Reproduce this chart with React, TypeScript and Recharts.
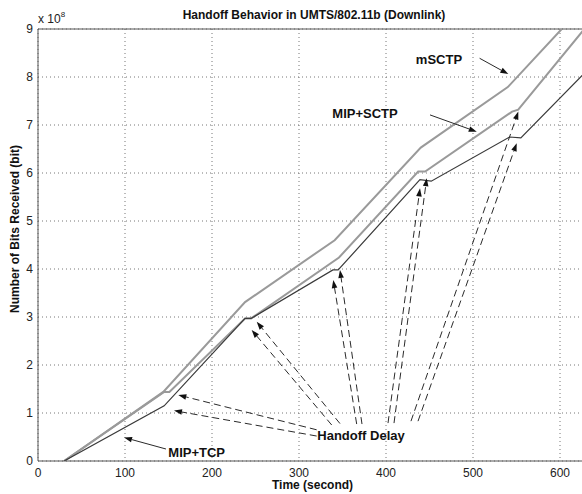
import React from 'react';
import { LineChart, Line, XAxis, YAxis, CartesianGrid, ReferenceLine, ReferenceDot } from 'recharts';

// Time (s) and bits received (units of 1e8)
const MSCTP_T = [30, 144, 238, 341, 440, 540, 602];
const MSCTP_V = [0, 1.44, 3.31, 4.6, 6.53, 7.79, 9.0];
const MIPSCTP_T = [30, 145, 151, 238, 245, 346, 437, 445, 545, 552, 628];
const MIPSCTP_V = [0, 1.44, 1.44, 2.97, 2.97, 4.24, 6.03, 6.03, 7.28, 7.32, 9.0];
const MIPTCP_T = [30, 145, 238, 245, 339, 345, 439, 452, 542, 555, 640];
const MIPTCP_V = [0, 1.15, 2.97, 2.97, 3.98, 3.98, 5.86, 5.83, 6.75, 6.73, 8.3];

const X_TICKS = [0, 100, 200, 300, 400, 500, 600];
const Y_TICKS = [0, 1, 2, 3, 4, 5, 6, 7, 8, 9];

// Dashed "Handoff Delay" arrows: [startT, startV, tipT, tipV]
const HANDOFF_ARROWS = [
  [320.3, 0.65, 161.3, 1.375],
  [320.3, 0.52, 156.3, 1.05],
  [337.6, 0.75, 245.6, 2.73],
  [347.1, 0.78, 251.4, 2.9],
  [366.3, 0.77, 339.4, 3.77],
  [372.4, 0.77, 347.1, 3.98],
  [402.3, 0.79, 439.1, 5.68],
  [409.2, 0.79, 446.8, 5.89],
  [428.7, 0.83, 552.1, 7.28],
  [436.8, 0.83, 550.2, 6.62],
];

// Solid label arrows
const LABEL_ARROWS = [
  [507.6, 8.39, 540.6, 8.06],
  [450.6, 7.21, 504.3, 6.86],
  [147.1, 0.25, 98.9, 0.49],
];

const LABEL_TEXT = ['mSCTP', 'MIP+SCTP', 'MIP+TCP', 'Handoff Delay'];
const LABEL_T = [460.9, 375.9, 182.4, 371.3];
const LABEL_V = [8.375, 7.25, 0.18, 0.53];

const toData = (ts: number[], vs: number[]) => ts.map((t, i) => ({ t, v: vs[i] }));
const mSCTP = toData(MSCTP_T, MSCTP_V);
const mipSCTP = toData(MIPSCTP_T, MIPSCTP_V);
const mipTCP = toData(MIPTCP_T, MIPTCP_V);

const arrowShape = (dash?: string) => (props: any) => {
  const { x1, y1, x2, y2 } = props;
  const dx = x2 - x1;
  const dy = y2 - y1;
  const len = Math.hypot(dx, dy) || 1;
  const ux = dx / len;
  const uy = dy / len;
  const L = 8;
  const W = 2.8;
  const bx = x2 - ux * L;
  const by = y2 - uy * L;
  const pts = `${x2},${y2} ${bx - uy * W},${by + ux * W} ${bx + uy * W},${by - ux * W}`;
  return (
    <g>
      <line x1={x1} y1={y1} x2={bx} y2={by} stroke="#2a2a2a" strokeWidth={1} strokeDasharray={dash} />
      <polygon points={pts} fill="#111" />
    </g>
  );
};

const font = '"Liberation Sans", Arial, Helvetica, sans-serif';

export default function App() {
  return (
    <div
      style={{
        position: 'absolute',
        left: 0,
        top: 0,
        width: 582,
        height: 494,
        overflow: 'hidden',
        background: '#fff',
        fontFamily: font,
      }}
    >
      <div
        style={{
          position: 'absolute',
          left: 314,
          top: 8,
          transform: 'translateX(-50%)',
          whiteSpace: 'nowrap',
          fontSize: 12,
          fontWeight: 'bold',
          lineHeight: '14px',
          color: '#111',
        }}
      >
        Handoff Behavior in UMTS/802.11b (Downlink)
      </div>
      <div
        style={{
          position: 'absolute',
          left: 38,
          top: 12,
          whiteSpace: 'nowrap',
          fontSize: 12,
          lineHeight: '14px',
          color: '#222',
        }}
      >
        x 10<sup style={{ fontSize: 8, verticalAlign: 'top', position: 'relative', top: -4 }}>8</sup>
      </div>
      <div
        style={{
          position: 'absolute',
          left: 15,
          top: 229,
          transform: 'translate(-50%, -50%) rotate(-90deg)',
          whiteSpace: 'nowrap',
          fontSize: 12,
          fontWeight: 'bold',
          lineHeight: '14px',
          color: '#111',
        }}
      >
        Number of Bits Received (bit)
      </div>
      <div
        style={{
          position: 'absolute',
          left: 312.5,
          top: 485,
          transform: 'translate(-50%, -50%)',
          whiteSpace: 'nowrap',
          fontSize: 12,
          fontWeight: 'bold',
          lineHeight: '14px',
          color: '#111',
        }}
      >
        Time (second)
      </div>
      <div style={{ position: 'absolute', left: 0, top: 0 }}>
        <LineChart width={647} height={494} margin={{ top: 29, right: 0, bottom: 0, left: 0 }}>
          <CartesianGrid stroke="#777" strokeDasharray="1 3" />
          <XAxis
            dataKey="t"
            type="number"
            domain={[0, 700]}
            ticks={X_TICKS}
            allowDataOverflow
            height={33}
            tickSize={0}
            tickMargin={7}
            tickLine={false}
            axisLine={{ stroke: '#555', strokeWidth: 1 }}
            tick={{ fontSize: 12, fill: '#222', fontFamily: font }}
          />
          <YAxis
            type="number"
            domain={[0, 9]}
            ticks={Y_TICKS}
            allowDataOverflow
            width={38}
            tickSize={0}
            tickMargin={5}
            tickLine={false}
            axisLine={{ stroke: '#555', strokeWidth: 1 }}
            tick={{ fontSize: 12, fill: '#222', fontFamily: font }}
          />
          <ReferenceLine y={9} stroke="#555" strokeWidth={1} />
          <Line data={mSCTP} dataKey="v" type="linear" stroke="#9a9a9a" strokeWidth={2} dot={false} activeDot={false} isAnimationActive={false} />
          <Line data={mipSCTP} dataKey="v" type="linear" stroke="#9a9a9a" strokeWidth={2} dot={false} activeDot={false} isAnimationActive={false} />
          <Line data={mipTCP} dataKey="v" type="linear" stroke="#3a3a3a" strokeWidth={1.2} dot={false} activeDot={false} isAnimationActive={false} />
          {HANDOFF_ARROWS.map((a, i) => (
            <ReferenceLine
              key={`h${i}`}
              segment={[{ x: a[0], y: a[1] }, { x: a[2], y: a[3] }]}
              shape={arrowShape('7 4')}
            />
          ))}
          {LABEL_ARROWS.map((a, i) => (
            <ReferenceLine
              key={`l${i}`}
              segment={[{ x: a[0], y: a[1] }, { x: a[2], y: a[3] }]}
              shape={arrowShape()}
            />
          ))}
          {LABEL_TEXT.map((txt, i) => (
            <ReferenceDot
              key={`t${i}`}
              x={LABEL_T[i]}
              y={LABEL_V[i]}
              r={0}
              fill="none"
              stroke="none"
              label={{ value: txt, position: 'center', fontSize: 13, fontWeight: 'bold', fill: '#111', fontFamily: font }}
            />
          ))}
        </LineChart>
      </div>
    </div>
  );
}
